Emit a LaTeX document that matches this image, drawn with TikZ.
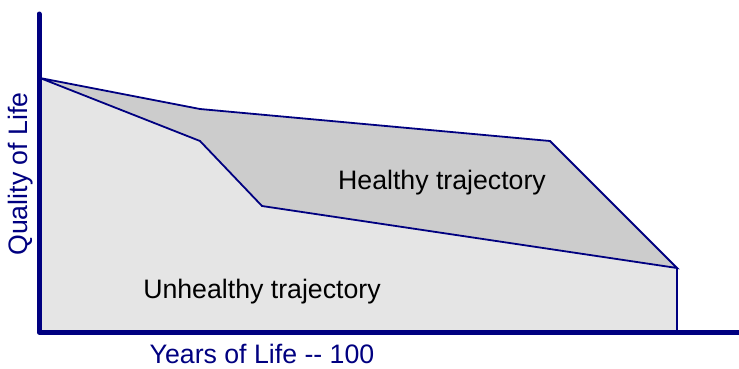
\documentclass[tikz,border=0pt]{standalone}
\usepackage{fontspec}
\setmainfont{Liberation Sans}
\definecolor{axisblue}{RGB}{0,0,128}
\definecolor{lightfill}{RGB}{229,229,229}
\definecolor{darkfill}{RGB}{204,204,204}
\tikzset{
  axisline/.style={draw=axisblue,line width=5pt,line cap=round,line join=round},
  trajline/.style={draw=axisblue,line width=1.8pt,line join=miter},
  bigtext/.style={font=\fontsize{26.7}{30}\selectfont,inner sep=0pt}
}

\begin{document}
\begin{tikzpicture}[x=1pt,y=-1pt]
  \useasboundingbox (0,0) rectangle (739,368);
  \coordinate (start) at (40,78);
  \coordinate (hmid) at (200,109);
  \coordinate (hend) at (550,141);
  \coordinate (umid) at (200,141);
  \coordinate (ulow) at (262,206);
  \coordinate (death) at (677,268);
  \coordinate (zero) at (677,331);
  \coordinate (orig) at (40,331);
  % unhealthy area
  \fill[lightfill] (start) -- (umid) -- (ulow) -- (death) -- (zero) -- (orig) -- cycle;
  % healthy area
  \path[fill=darkfill,trajline] (start) -- (hmid) -- (hend) -- (death)
    -- (ulow) -- (umid) -- cycle;
  \draw[trajline] (death) -- (zero);
  \draw[axisline] (39,14) -- (39,332) -- (739,332);
  \node (ht) [bigtext] at (442,183) {Healthy trajectory};
  \node (ut) [bigtext] at (262,292) {Unhealthy trajectory};
  \node (xl) [bigtext,text=axisblue] at (262,354) {Years of Life -{}- 100};
  \node (yl) [bigtext,text=axisblue,rotate=90] at (21,174) {Quality of Life};
\end{tikzpicture}
\end{document}
